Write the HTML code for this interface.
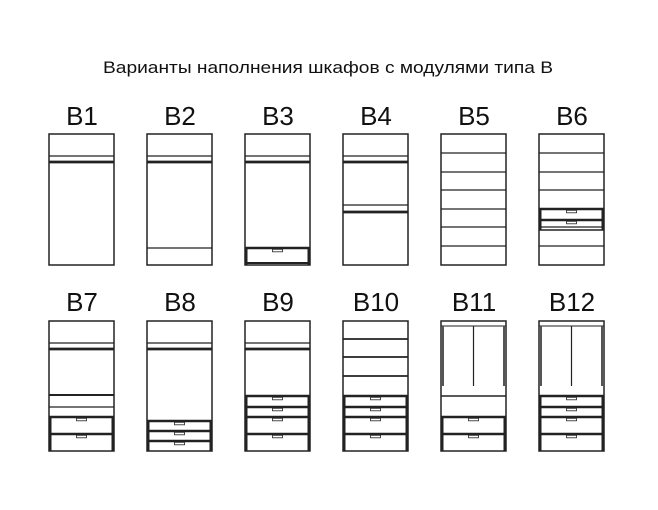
<!DOCTYPE html>
<html><head><meta charset="utf-8"><style>
html,body{margin:0;padding:0;background:#fff;width:658px;height:510px;overflow:hidden}
svg{display:block}
text{font-family:"Liberation Sans",sans-serif;fill:#111}
</style></head><body>
<svg id="s" width="658" height="510" viewBox="0 0 658 510" xmlns="http://www.w3.org/2000/svg">
<text x="328" y="73" font-size="16.5" text-anchor="middle" textLength="450" lengthAdjust="spacingAndGlyphs">Варианты наполнения шкафов с модулями типа В</text>
<g font-size="26" text-anchor="middle">
<text x="82" y="125">B1</text><text x="180" y="125">B2</text><text x="278" y="125">B3</text>
<text x="376" y="125">B4</text><text x="474" y="125">B5</text><text x="572" y="125">B6</text>
<text x="82" y="311">B7</text><text x="180" y="311">B8</text><text x="278" y="311">B9</text>
<text x="376" y="311">B10</text><text x="474" y="311">B11</text><text x="572" y="311">B12</text>
</g>
<g id="g" fill="none" stroke="#222"></g>
</svg>
<script>
var g=document.getElementById('g'),o='';
var W=65;
function L(x,y,w,t){o+='<line x1="'+x+'" y1="'+y+'" x2="'+(x+W)+'" y2="'+y+'" stroke-width="'+(t||1.2)+'"/>';}
function box(x,y,h){o+='<rect x="'+x+'" y="'+y+'" width="'+W+'" height="'+h+'" stroke-width="1.5"/>';}
function rod(x,y){L(x,y+22);L(x,y+28,0,2.8);}
function dr(x,y){L(x,y,0,2.5);o+='<rect x="'+(x+W/2-5)+'" y="'+(y+1.3)+'" width="10" height="2.5" stroke-width="0.8" fill="#fff"/>';}
function side(x,top,bot){o+='<line x1="'+(x+1.5)+'" y1="'+top+'" x2="'+(x+1.5)+'" y2="'+bot+'" stroke-width="2"/><line x1="'+(x+W-1.5)+'" y1="'+top+'" x2="'+(x+W-1.5)+'" y2="'+bot+'" stroke-width="2"/>';}
var X=[49,147,245,343,441,539],T=134,B=321,H=131;
X.forEach(function(x){box(x,T,H);box(x,B,130);});
// row1
rod(X[0],T);
rod(X[1],T);L(X[1],T+114);
rod(X[2],T);dr(X[2],T+114);side(X[2],T+114,T+131);L(X[2],T+129,0,2);
rod(X[3],T);L(X[3],T+71);L(X[3],T+78,0,2.8);
[19,38,56,75,93,112].forEach(function(d){L(X[4],T+d);});
[19,38,56,93,112].forEach(function(d){L(X[5],T+d);});dr(X[5],T+75);dr(X[5],T+86);side(X[5],T+75,T+96);L(X[5],T+96,0,1.5);
// row2
rod(X[0],B);L(X[0],B+74,0,2);L(X[0],B+86);dr(X[0],B+96);dr(X[0],B+113);side(X[0],B+96,B+130);
rod(X[1],B);dr(X[1],B+100);dr(X[1],B+110);dr(X[1],B+120);side(X[1],B+100,B+130);
rod(X[2],B);[75,86,96,113].forEach(function(d){dr(X[2],B+d);});side(X[2],B+75,B+130);
[18,36,55].forEach(function(d){L(X[3],B+d,0,1.8);});[75,86,96,113].forEach(function(d){dr(X[3],B+d);});side(X[3],B+75,B+130);
[4,5].forEach(function(i){var x=X[i];
 L(x,B+5,0,1);o+='<line x1="'+(x+W/2)+'" y1="'+(B+5)+'" x2="'+(x+W/2)+'" y2="'+(B+65)+'" stroke-width="1.2"/>';
 o+='<line x1="'+(x+2)+'" y1="'+(B+5)+'" x2="'+(x+2)+'" y2="'+(B+65)+'" stroke-width="2" stroke="#555"/><line x1="'+(x+W-2)+'" y1="'+(B+5)+'" x2="'+(x+W-2)+'" y2="'+(B+65)+'" stroke-width="2" stroke="#555"/>';
});
L(X[4],B+75,0,1.5);dr(X[4],B+96);dr(X[4],B+113);side(X[4],B+96,B+130);
[75,86,96,113].forEach(function(d){dr(X[5],B+d);});side(X[5],B+75,B+130);
g.innerHTML=o;
</script>
</body></html>
